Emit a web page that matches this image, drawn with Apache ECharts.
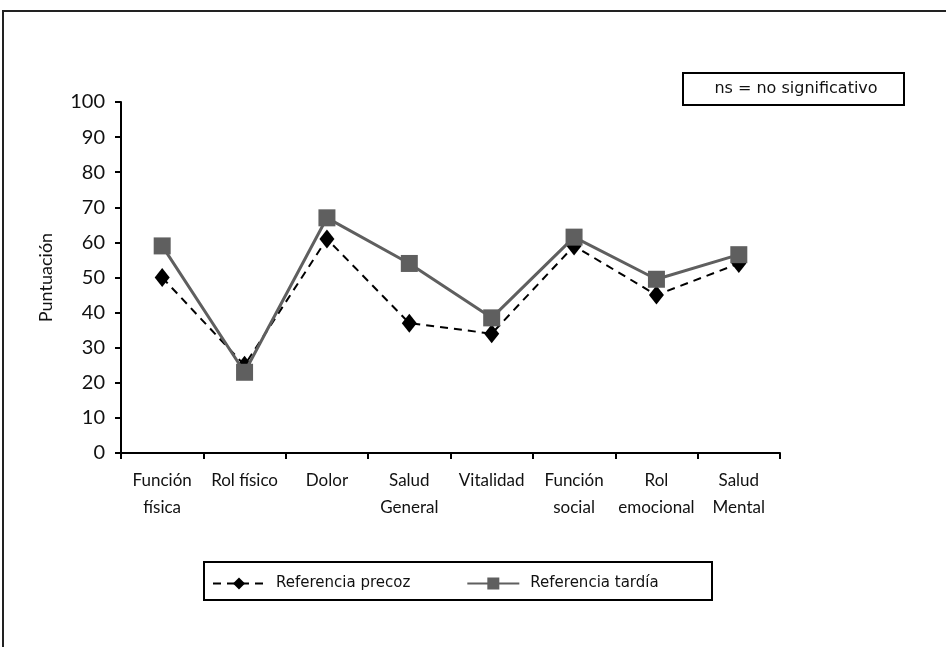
<!DOCTYPE html>
<html><head><meta charset="utf-8">
<script src="https://cdn.jsdelivr.net/npm/echarts@6/dist/echarts.min.js"></script>
<style>html,body{margin:0;padding:0;background:#fff}#c{width:946px;height:647px}</style>
</head><body><div id="c"></div>
<script>
const categories = ["Función\nfísica", "Rol físico", "Dolor", "Salud\nGeneral", "Vitalidad", "Función\nsocial", "Rol\nemocional", "Salud\nMental"];
const precoz = [50, 25, 61, 37, 34, 59, 45, 54];
const tardia = [59, 23, 67, 54, 38.5, 61.5, 49.5, 56.5];
const seriesNames = ["Referencia precoz", "Referencia tardía"];
const yTicks = { min: 0, max: 100, interval: 10 };
const yName = "Puntuación";
const note = "ns = no significativo";

const font = "Lato, 'Open Sans', sans-serif";
const font2 = "'DejaVu Sans', Lato, sans-serif";
const chart = echarts.init(document.getElementById('c'), null, { renderer: 'canvas' });
chart.setOption({
  animation: false,
  backgroundColor: '#fff',
  grid: { left: 121, right: 166, top: 102, bottom: 194, containLabel: false },
  xAxis: {
    type: 'category', data: categories, boundaryGap: true,
    axisLine: { lineStyle: { color: '#000', width: 2 } },
    axisTick: { show: true, length: 6, lineStyle: { color: '#000', width: 2 }, alignWithLabel: false },
    axisLabel: { color: '#111', fontFamily: font, fontSize: 17, lineHeight: 27, margin: 14, interval: 0 },
    splitLine: { show: false }
  },
  yAxis: {
    type: 'value', min: yTicks.min, max: yTicks.max, interval: yTicks.interval,
    name: yName, nameLocation: 'middle', nameGap: 66, nameRotate: 90,
    nameTextStyle: { color: '#111', fontFamily: font, fontSize: 18 },
    axisLine: { show: true, lineStyle: { color: '#000', width: 2 } },
    axisTick: { show: true, length: 6, lineStyle: { color: '#000', width: 2 } },
    axisLabel: { color: '#111', fontFamily: font, fontSize: 20, margin: 16 },
    splitLine: { show: false }
  },
  legend: {
    left: 207, top: 571, itemGap: 56, itemWidth: 52, itemHeight: 15,
    textStyle: { color: '#111', fontFamily: font2, fontSize: 15, padding: [0, 0, 0, 6] },
    data: seriesNames
  },
  series: [
    {
      name: seriesNames[0], type: 'line', data: precoz, z: 2,
      symbol: 'diamond', symbolSize: [15, 19],
      itemStyle: { color: '#000' },
      lineStyle: { color: '#000', width: 2, type: [8, 6] }
    },
    {
      name: seriesNames[1], type: 'line', data: tardia, z: 3,
      symbol: 'rect', symbolSize: 17,
      itemStyle: { color: '#5f5f5f' },
      lineStyle: { color: '#5f5f5f', width: 3 }
    }
  ],
  graphic: [
    { type: 'rect', shape: { x: 3, y: 11, width: 960, height: 700 }, style: { fill: 'none', stroke: '#222', lineWidth: 2 }, silent: true },
    { type: 'rect', shape: { x: 683, y: 73, width: 221, height: 32 }, style: { fill: '#fff', stroke: '#000', lineWidth: 2 } },
    { type: 'text', x: 796, y: 89, style: { text: note, fill: '#111', font: '16px ' + font2, textAlign: 'center', textVerticalAlign: 'middle' } },
    { type: 'rect', shape: { x: 204, y: 562, width: 508, height: 38 }, style: { fill: 'none', stroke: '#000', lineWidth: 2 } }
  ]
});
</script></body></html>
